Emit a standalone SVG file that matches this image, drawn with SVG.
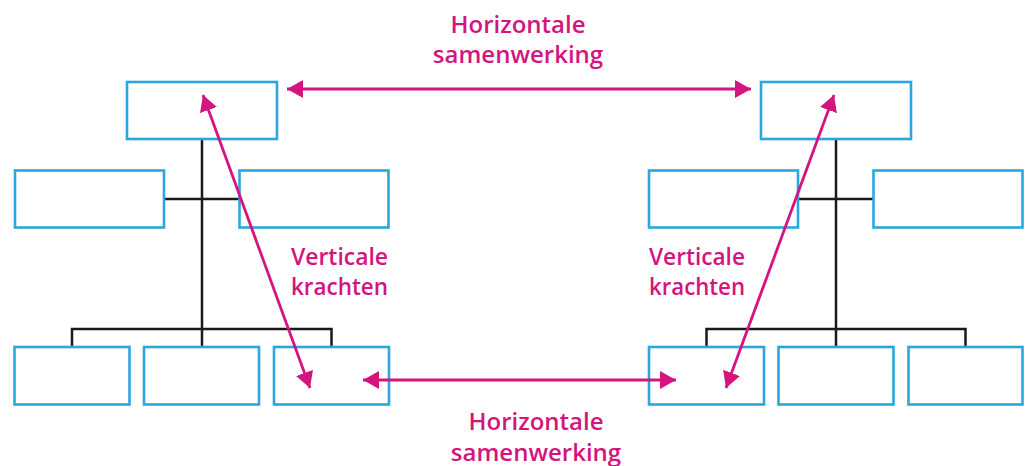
<svg xmlns="http://www.w3.org/2000/svg" width="1025" height="466" viewBox="0 0 1025 466">
<style>
.box{fill:#fff;stroke:#2ba6de;stroke-width:2.6}
.tree{fill:none;stroke:#1a1a1a;stroke-width:2.5}
.arr{fill:none;stroke:#d4147f;stroke-width:2.8;marker-start:url(#ah);marker-end:url(#ah)}
.lbl{font-family:"Open Sans","Liberation Sans",sans-serif;font-weight:600;font-size:24px;fill:#d4147f}
</style>
<defs>
<marker id="ah" markerUnits="userSpaceOnUse" markerWidth="18" markerHeight="20" refX="16" refY="9" orient="auto-start-reverse">
<path d="M0,0 L16,9 L0,18 z" fill="#d4147f"/>
</marker>
</defs>
<rect width="1025" height="466" fill="#fff"/>
<g id="tree-lines">
<path class="tree" d="M202,139 V347 M164,199 H239 M72,347 V329 H331.5 V347"/>
<path class="tree" d="M836,139 V347 M798,199 H873 M706.5,347 V329 H965.5 V347"/>
</g>
<g id="left-top"><rect class="box" x="127" y="82" width="150" height="57"/></g>
<g id="left-mid-1"><rect class="box" x="15" y="170.5" width="149" height="57"/></g>
<g id="left-mid-2"><rect class="box" x="239.5" y="170.5" width="149" height="57"/></g>
<g id="left-bot-1"><rect class="box" x="14.5" y="347" width="115" height="57.5"/></g>
<g id="left-bot-2"><rect class="box" x="144" y="347" width="115" height="57.5"/></g>
<g id="left-bot-3"><rect class="box" x="274" y="347" width="115" height="57.5"/></g>
<g id="right-top"><rect class="box" x="761" y="82" width="150" height="57"/></g>
<g id="right-mid-1"><rect class="box" x="649" y="170.5" width="149" height="57"/></g>
<g id="right-mid-2"><rect class="box" x="873.5" y="170.5" width="149" height="57"/></g>
<g id="right-bot-1"><rect class="box" x="649" y="347" width="115" height="57.5"/></g>
<g id="right-bot-2"><rect class="box" x="778.5" y="347" width="115" height="57.5"/></g>
<g id="right-bot-3"><rect class="box" x="908.5" y="347" width="114" height="57.5"/></g>
<g id="connectors">
<line class="arr" x1="287" y1="89" x2="751" y2="89"/>
<line class="arr" x1="363" y1="380" x2="676" y2="380"/>
<line class="arr" x1="203" y1="95" x2="310" y2="388"/>
<line class="arr" x1="834" y1="95" x2="726" y2="388"/>
</g>
<g id="labels">
<text class="lbl" text-anchor="middle" x="518" y="33">Horizontale</text>
<text class="lbl" text-anchor="middle" x="518" y="63">samenwerking</text>
<text class="lbl" text-anchor="middle" x="536" y="430">Horizontale</text>
<text class="lbl" text-anchor="middle" x="536" y="461">samenwerking</text>
<text class="lbl" x="291" y="265" textLength="97" lengthAdjust="spacingAndGlyphs">Verticale</text>
<text class="lbl" x="291" y="295" textLength="97" lengthAdjust="spacingAndGlyphs">krachten</text>
<text class="lbl" x="649" y="265" textLength="96" lengthAdjust="spacingAndGlyphs">Verticale</text>
<text class="lbl" x="649" y="295" textLength="96" lengthAdjust="spacingAndGlyphs">krachten</text>
</g>
</svg>
